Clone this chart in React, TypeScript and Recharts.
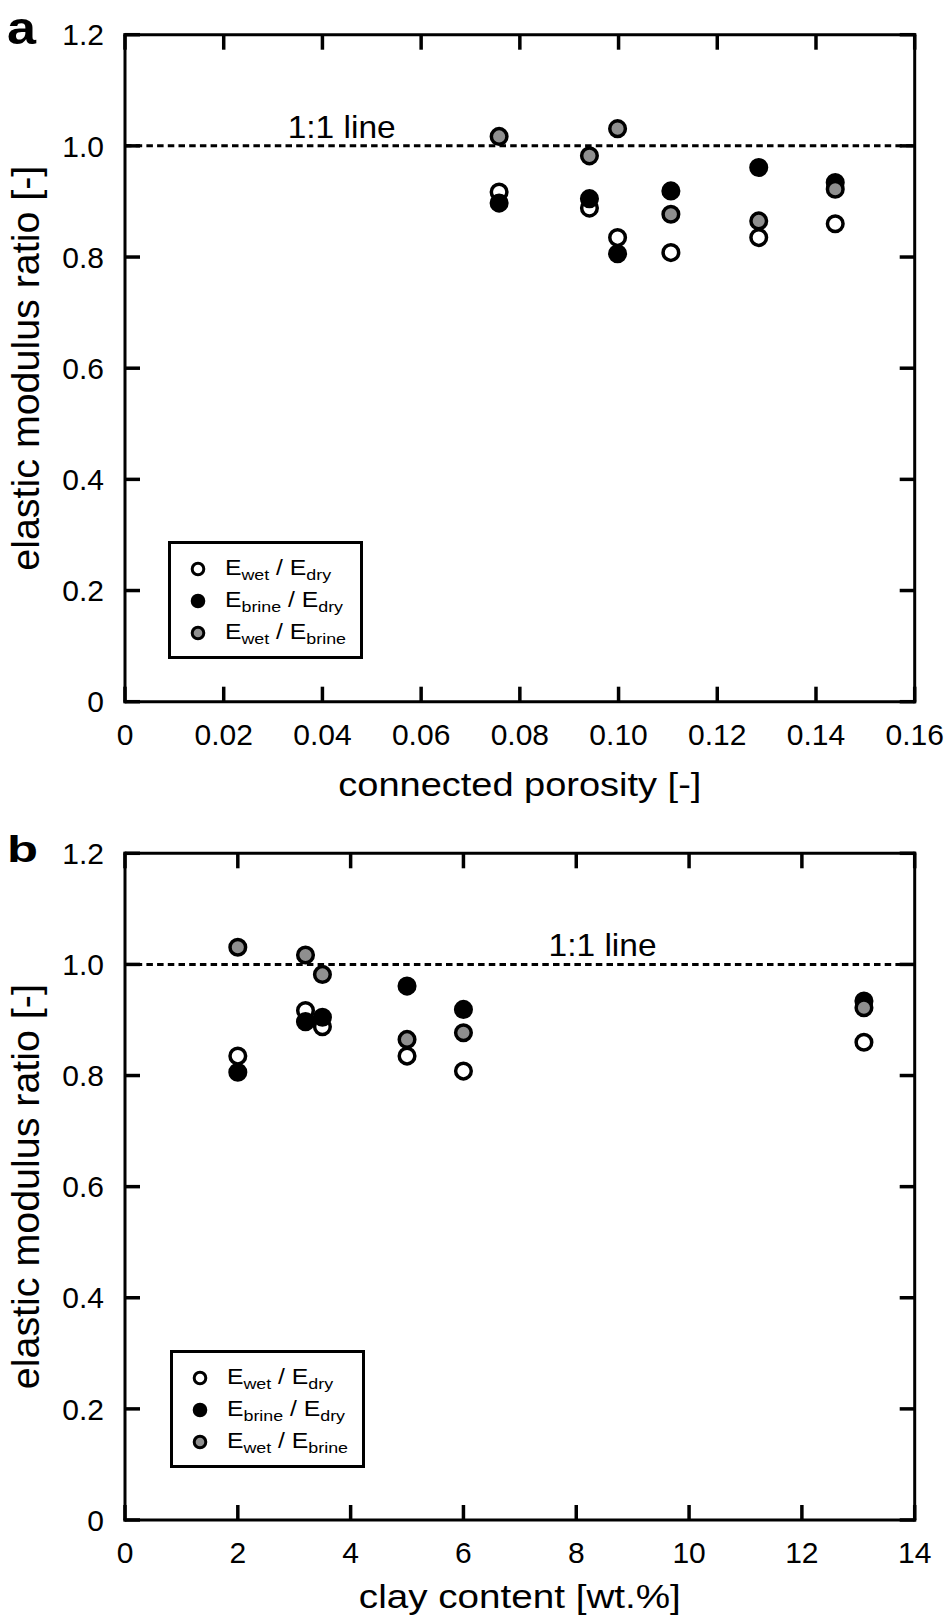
import React from 'react';
import { ScatterChart, Scatter, XAxis, YAxis, ReferenceLine, Legend } from 'recharts';

// ---- data ----
const porosity = [0.0758, 0.0941, 0.0998, 0.1106, 0.1284, 0.1439];
const clayContent = [3.2, 3.5, 2.0, 6.0, 5.0, 13.1];
const ewetEdry = [0.917, 0.888, 0.835, 0.808, 0.835, 0.86];
const ebrineEdry = [0.897, 0.905, 0.806, 0.919, 0.961, 0.934];
const ewetEbrine = [1.017, 0.982, 1.031, 0.877, 0.865, 0.922];

const porosityTicks = [0, 0.02, 0.04, 0.06, 0.08, 0.1, 0.12, 0.14, 0.16];
const clayTicks = [0, 2, 4, 6, 8, 10, 12, 14];
const ratioTicks = [0, 0.2, 0.4, 0.6, 0.8, 1.0, 1.2];

const FONT = '"Liberation Sans", Arial, Helvetica, sans-serif';
const GRAY = '#8f8f8f';

const series = [
  { key: 'wd', fill: '#ffffff', num: 'wet', den: 'dry' },
  { key: 'bd', fill: '#000000', num: 'brine', den: 'dry' },
  { key: 'wb', fill: GRAY, num: 'wet', den: 'brine' },
];

const ratioFmt = (v: number) => (v === 0 ? '0' : v.toFixed(1));
const porFmt = (v: number) => (v === 0 ? '0' : v.toFixed(2));
const clayFmt = (v: number) => String(v);
const NoLabel = () => <g />;
const NoShape = () => <g />;

const Sub = ({ children }: { children: React.ReactNode }) => (
  <span style={{ fontSize: 15.5, position: 'relative', top: 5 }}>{children}</span>
);

const LegendBox = ({ width, height }: { width: number; height: number }) => (
  <div
    style={{
      boxSizing: 'border-box',
      width,
      height,
      border: '3px solid #000',
      background: '#fff',
      position: 'relative',
      fontFamily: FONT,
      color: '#000',
    }}
  >
    {series.map((s, i) => (
      <div key={s.key} style={{ position: 'absolute', left: 0, top: 25 + i * 32.2 - 16, height: 32, width: '100%' }}>
        <svg width={20} height={20} style={{ position: 'absolute', left: 17, top: 6 }}>
          <circle cx={10} cy={10} r={5.8} fill={s.fill} stroke="#000" strokeWidth={3} />
        </svg>
        <span
          style={{
            position: 'absolute',
            left: 54,
            top: 3,
            fontSize: 21.5,
            whiteSpace: 'nowrap',
            lineHeight: '24px',
            display: 'inline-block',
            transform: 'scaleX(1.15)',
            transformOrigin: 'left center',
          }}
        >
          E<Sub>{s.num}</Sub> / E<Sub>{s.den}</Sub>
        </span>
      </div>
    ))}
  </div>
);

type PanelProps = {
  xs: number[];
  xMax: number;
  xTicks: number[];
  xFmt: (v: number) => string;
  xTitle: string;
  xTitleLen: number;
  letter: string;
  letterSize: number;
  letterLen: number;
  letterBaseline: number;
  height: number;
  top: number;
  xAxisHeight: number;
  titleDrop: number;
  lineLabelFrac: number;
  legendLeft: number;
  legendTop: number;
};

const LEFT = 125;
const RIGHT_MARGIN = 29.3;
const PLOT_W = 944 - LEFT - RIGHT_MARGIN;

const Panel = (p: PanelProps) => {
  const data = p.xs.map((x, i) => ({ x, wd: ewetEdry[i], bd: ebrineEdry[i], wb: ewetEbrine[i] }));
  const plotH = p.height - p.top - p.xAxisHeight;
  const plotBottom = p.top + plotH;
  const axisLine = { stroke: '#000', strokeWidth: 3, strokeLinecap: 'square' as const };
  const tickLine = { stroke: '#000', strokeWidth: 3.5 };
  const tickStyle = { fill: '#000', fontSize: 30, fontFamily: FONT };
  const xDomain: [number, number] = [0, p.xMax];
  const yDomain: [number, number] = [0, 1.2];
  return (
    <ScatterChart
      width={944}
      height={p.height}
      margin={{ top: p.top, right: RIGHT_MARGIN, bottom: 0, left: 0 }}
      style={{ fontFamily: FONT }}
    >
      {/* labelled axes (bottom / left) */}
      <XAxis
        xAxisId="b"
        type="number"
        dataKey="x"
        domain={xDomain}
        ticks={p.xTicks}
        interval={0}
        tickFormatter={p.xFmt}
        axisLine={false}
        tickLine={false}
        tickSize={0}
        tickMargin={22}
        height={p.xAxisHeight}
        tick={tickStyle}
        label={{
          content: () => (
            <text
              x={LEFT + PLOT_W / 2}
              y={plotBottom + p.titleDrop}
              textAnchor="middle"
              fontSize={34}
              textLength={p.xTitleLen}
              lengthAdjust="spacingAndGlyphs"
              fontFamily={FONT}
              fill="#000"
            >
              {p.xTitle}
            </text>
          ),
        }}
      />
      <YAxis
        yAxisId="l"
        type="number"
        domain={yDomain}
        ticks={ratioTicks}
        interval={0}
        tickFormatter={ratioFmt}
        axisLine={false}
        tickLine={false}
        tickSize={0}
        tickMargin={21}
        width={LEFT}
        tick={tickStyle}
        label={{
          content: () => {
            const cx = 39;
            const cy = p.top + plotH / 2;
            return (
              <g>
                <text
                  x={cx}
                  y={cy}
                  transform={`rotate(-90 ${cx} ${cy})`}
                  textAnchor="middle"
                  fontSize={39}
                  textLength={405}
                  lengthAdjust="spacingAndGlyphs"
                  fontFamily={FONT}
                  fill="#000"
                >
                  elastic modulus ratio [-]
                </text>
                <text
                  x={7}
                  y={p.letterBaseline}
                  fontSize={p.letterSize}
                  textLength={p.letterLen}
                  lengthAdjust="spacingAndGlyphs"
                  fontWeight="bold"
                  fontFamily={FONT}
                  fill="#000"
                >
                  {p.letter}
                </text>
              </g>
            );
          },
        }}
      />
      {/* frame with inward ticks on all four sides */}
      <XAxis xAxisId="bm" type="number" dataKey="x" orientation="bottom" mirror domain={xDomain} ticks={p.xTicks} interval={0}
        axisLine={axisLine} tickLine={tickLine} tickSize={15} height={1} tick={NoLabel} />
      <XAxis xAxisId="t" type="number" dataKey="x" orientation="top" mirror domain={xDomain} ticks={p.xTicks} interval={0}
        axisLine={axisLine} tickLine={tickLine} tickSize={15} height={1} tick={NoLabel} />
      <YAxis yAxisId="lm" type="number" orientation="left" mirror domain={yDomain} ticks={ratioTicks} interval={0}
        axisLine={axisLine} tickLine={tickLine} tickSize={15} width={1} tick={NoLabel} />
      <YAxis yAxisId="r" type="number" orientation="right" mirror domain={yDomain} ticks={ratioTicks} interval={0}
        axisLine={axisLine} tickLine={tickLine} tickSize={15} width={1} tick={NoLabel} />
      {/* invisible series that give the frame axes their scales */}
      <Scatter xAxisId="bm" yAxisId="lm" data={data} dataKey="wd" shape={NoShape} legendType="none" isAnimationActive={false} />
      <Scatter xAxisId="t" yAxisId="r" data={data} dataKey="wd" shape={NoShape} legendType="none" isAnimationActive={false} />
      <ReferenceLine
        xAxisId="b"
        yAxisId="l"
        y={1}
        stroke="#000"
        strokeWidth={3}
        strokeDasharray="6.5 4.2"
        label={{
          content: (lp: any) => {
            const vb = lp.viewBox || { x: LEFT, y: 147, width: PLOT_W };
            return (
              <text
                x={vb.x + vb.width * p.lineLabelFrac}
                y={vb.y - 8}
                textAnchor="middle"
                fontSize={32}
                textLength={108}
                lengthAdjust="spacingAndGlyphs"
                fontFamily={FONT}
                fill="#000"
              >
                1:1 line
              </text>
            );
          },
        }}
      />
      {series.map((s) => (
        <Scatter
          key={s.key}
          xAxisId="b"
          yAxisId="l"
          data={data}
          dataKey={s.key}
          isAnimationActive={false}
          shape={(sp: any) => (
            <circle cx={sp.cx} cy={sp.cy} r={7.8} fill={s.fill} stroke="#000" strokeWidth={3.5} />
          )}
        />
      ))}
      <Legend
        layout="vertical"
        align="center"
        verticalAlign="middle"
        wrapperStyle={{ left: p.legendLeft, top: p.legendTop, width: 195, height: 118 }}
        content={() => <LegendBox width={195} height={118} />}
      />
    </ScatterChart>
  );
};

export default function App() {
  return (
    <div style={{ position: 'absolute', left: 0, top: 0, width: 944, height: 1624, background: '#fff' }}>
      <div style={{ position: 'absolute', left: 0, top: 0 }}>
        <Panel
          xs={porosity}
          xMax={0.16}
          xTicks={porosityTicks}
          xFmt={porFmt}
          xTitle="connected porosity [-]"
          xTitleLen={363}
          letter="a"
          letterSize={47}
          letterLen={29}
          letterBaseline={44}
          height={820}
          top={34.7}
          xAxisHeight={118.3}
          titleDrop={94}
          lineLabelFrac={0.2744}
          legendLeft={168}
          legendTop={541}
        />
      </div>
      <div style={{ position: 'absolute', left: 0, top: 820 }}>
        <Panel
          xs={clayContent}
          xMax={14}
          xTicks={clayTicks}
          xFmt={clayFmt}
          xTitle="clay content [wt.%]"
          xTitleLen={322}
          letter="b"
          letterSize={36}
          letterLen={31}
          letterBaseline={42}
          height={804}
          top={33.3}
          xAxisHeight={104}
          titleDrop={88}
          lineLabelFrac={0.6047}
          legendLeft={170}
          legendTop={530}
        />
      </div>
    </div>
  );
}
